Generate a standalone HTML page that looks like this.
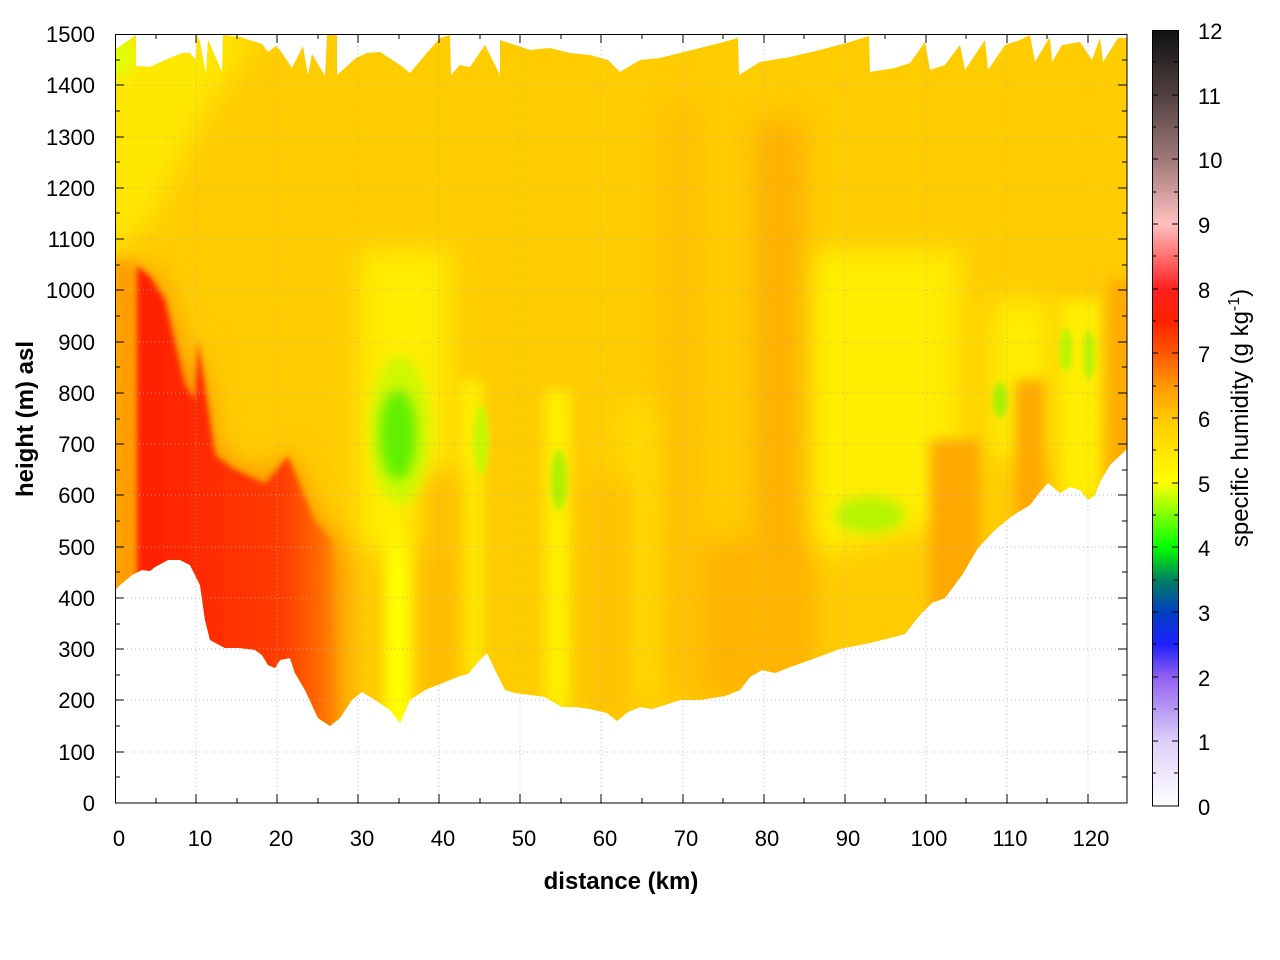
<!DOCTYPE html>
<html><head><meta charset="utf-8"><style>
html,body{margin:0;padding:0;background:#fff;}
svg{display:block;}
text{font-family:"Liberation Sans",sans-serif;fill:#000;}
</style></head><body>
<svg width="1280" height="960" viewBox="0 0 1280 960" xmlns="http://www.w3.org/2000/svg">
<defs>
<filter id="b6" x="-50%" y="-50%" width="200%" height="200%"><feGaussianBlur stdDeviation="6"/></filter>
<filter id="b10" x="-50%" y="-50%" width="200%" height="200%"><feGaussianBlur stdDeviation="14"/></filter>
<filter id="b3" x="-50%" y="-50%" width="200%" height="200%"><feGaussianBlur stdDeviation="3"/></filter>
<clipPath id="dom">
<path d="M115,50 L136,35 L136,66 L150,67 L170,58 L182,53 L190,53 L196,60 L197,35 L200,42 L206,75 L208,40 L222,72 L223,35 L240,37 L262,44 L268,52 L276,46 L280,50 L292,68 L303,46 L308,75 L312,54 L325,76 L327,35 L337,35 L337,75 L356,58 L367,53 L380,52 L400,65 L410,73 L425,55 L440,38 L450,35 L451,75 L460,65 L470,67 L485,45 L500,75 L500,40 L515,45 L530,50 L550,48 L570,53 L590,55 L608,60 L620,72 L640,60 L660,58 L680,53 L700,48 L720,43 L738,38 L739,75 L760,62 L790,57 L820,50 L850,42 L869,36 L870,72 L895,68 L910,63 L925,42 L930,70 L945,65 L960,45 L965,70 L985,40 L988,70 L1005,45 L1020,40 L1030,35 L1035,62 L1045,45 L1050,37 L1052,62 L1062,45 L1080,42 L1092,60 L1100,38 L1103,62 L1118,38 L1127,38 L1127,449 L1110,465 L1100,482 L1095,495 L1088,500 L1080,490 L1070,487 L1060,493 L1048,483 L1040,492 L1030,505 L1012,516 L995,530 L978,548 L962,575 L945,598 L932,603 L920,615 L905,634 L890,638 L870,643 L840,649 L810,660 L790,667 L775,673 L762,670 L750,677 L740,690 L725,696 L700,700 L680,700 L665,705 L652,709 L640,707 L628,712 L617,721 L607,713 L590,709 L575,707 L562,707 L555,703 L545,697 L530,695 L515,693 L505,690 L495,670 L487,653 L478,662 L468,674 L460,676 L450,680 L440,684 L425,690 L410,700 L400,723 L390,710 L375,700 L362,692 L352,700 L340,718 L330,726 L318,718 L305,690 L295,673 L290,658 L280,660 L275,668 L268,665 L262,655 L255,650 L240,648 L225,648 L210,640 L205,620 L200,585 L190,565 L180,560 L168,560 L155,567 L150,571 L142,570 L132,575 L120,585 L115,590 Z"/>
</clipPath>
<linearGradient id="cb" x1="0" y1="1" x2="0" y2="0">
<stop offset="0" stop-color="#ffffff"/>
<stop offset="0.0833" stop-color="#ddd0f8"/>
<stop offset="0.1667" stop-color="#9060f0"/>
<stop offset="0.2083" stop-color="#2020ff"/>
<stop offset="0.25" stop-color="#0040c0"/>
<stop offset="0.2917" stop-color="#008060"/>
<stop offset="0.3333" stop-color="#00ff00"/>
<stop offset="0.4167" stop-color="#ffff00"/>
<stop offset="0.5" stop-color="#ffc800"/>
<stop offset="0.5417" stop-color="#ff9800"/>
<stop offset="0.5833" stop-color="#ff5800"/>
<stop offset="0.625" stop-color="#ff2000"/>
<stop offset="0.6667" stop-color="#ff2020"/>
<stop offset="0.7083" stop-color="#ff7070"/>
<stop offset="0.75" stop-color="#ffc0c0"/>
<stop offset="0.8333" stop-color="#a07878"/>
<stop offset="0.9167" stop-color="#504040"/>
<stop offset="1" stop-color="#101010"/>
</linearGradient>
<linearGradient id="redg" gradientUnits="userSpaceOnUse" x1="135" y1="0" x2="345" y2="0">
<stop offset="0" stop-color="#ff2000"/>
<stop offset="0.3" stop-color="#ff2a00"/>
<stop offset="0.7" stop-color="#ff3c00"/>
<stop offset="0.88" stop-color="#ff6a00"/>
<stop offset="1" stop-color="#ffa000"/>
</linearGradient>
</defs>

<g clip-path="url(#dom)">
<rect x="100" y="30" width="1040" height="780" fill="#ffcc00"/>
<path d="M100,30 L260,30 L200,120 L150,220 L100,260 Z" fill="#ffe800" filter="url(#b10)"/>
<ellipse cx="118" cy="55" rx="18" ry="22" fill="#e0ff00" filter="url(#b6)"/>
<rect x="110" y="260" width="27" height="350" fill="#ffa000" filter="url(#b6)"/>
<rect x="385" y="480" width="30" height="260" fill="#ffff00" filter="url(#b6)"/>
<rect x="460" y="380" width="22" height="320" fill="#ffee00" filter="url(#b6)"/>
<rect x="545" y="390" width="25" height="320" fill="#ffee00" filter="url(#b6)"/>
<rect x="360" y="250" width="90" height="300" fill="#ffee00" filter="url(#b10)"/>
<rect x="620" y="400" width="60" height="300" fill="#ffdc00" filter="url(#b10)"/>
<path d="M800,250 L960,250 L960,520 L800,560 Z" fill="#ffee00" filter="url(#b10)"/>
<rect x="990" y="300" width="60" height="160" fill="#ffee00" filter="url(#b10)"/>
<rect x="1060" y="300" width="40" height="200" fill="#ffee00" filter="url(#b6)"/>
<rect x="755" y="120" width="50" height="560" fill="#ffb000" filter="url(#b10)"/>
<rect x="660" y="100" width="40" height="600" fill="#ffc000" filter="url(#b10)"/>
<rect x="700" y="540" width="110" height="160" fill="#ffb400" filter="url(#b10)"/>
<rect x="930" y="440" width="50" height="180" fill="#ffa800" filter="url(#b6)"/>
<rect x="1015" y="380" width="30" height="140" fill="#ffa800" filter="url(#b6)"/>
<rect x="1108" y="280" width="30" height="200" fill="#ffaa00" filter="url(#b6)"/>
<rect x="420" y="470" width="40" height="240" fill="#ffbc00" filter="url(#b10)"/>
<rect x="590" y="480" width="40" height="240" fill="#ffc000" filter="url(#b10)"/>
<path d="M137,262 L150,270 L165,292 L185,370 L195,390 L198,333 L215,450 L232,463 L265,480 L288,450 L315,517 L335,535 L345,560 L345,760 L120,760 L137,600 Z" fill="#ff8a00" filter="url(#b10)"/>
<path d="M137,266 L150,276 L165,300 L185,385 L195,400 L198,340 L215,455 L232,468 L265,484 L288,456 L315,522 L332,540 L338,760 L137,760 Z" fill="url(#redg)" filter="url(#b3)"/>
<ellipse cx="400" cy="430" rx="30" ry="75" fill="#d0f800" filter="url(#b6)"/>
<ellipse cx="398" cy="435" rx="18" ry="45" fill="#60f000" filter="url(#b6)"/>
<ellipse cx="481" cy="440" rx="8" ry="35" fill="#c8f800" filter="url(#b3)"/>
<ellipse cx="559" cy="480" rx="8" ry="30" fill="#b0f000" filter="url(#b3)"/>
<ellipse cx="870" cy="515" rx="35" ry="18" fill="#b8f400" filter="url(#b6)"/>
<ellipse cx="1000" cy="400" rx="7" ry="18" fill="#a8f000" filter="url(#b3)"/>
<ellipse cx="1066" cy="350" rx="6" ry="22" fill="#b8f400" filter="url(#b3)"/>
<ellipse cx="1089" cy="355" rx="6" ry="25" fill="#b8f400" filter="url(#b3)"/>
</g>

<g stroke="#b0b0b0" stroke-width="1" stroke-dasharray="1,3" opacity="0.8">
<line x1="196" y1="34" x2="196" y2="803"/><line x1="277" y1="34" x2="277" y2="803"/><line x1="358" y1="34" x2="358" y2="803"/><line x1="439" y1="34" x2="439" y2="803"/><line x1="520" y1="34" x2="520" y2="803"/><line x1="601" y1="34" x2="601" y2="803"/><line x1="683" y1="34" x2="683" y2="803"/><line x1="764" y1="34" x2="764" y2="803"/><line x1="845" y1="34" x2="845" y2="803"/><line x1="926" y1="34" x2="926" y2="803"/><line x1="1007" y1="34" x2="1007" y2="803"/><line x1="1088" y1="34" x2="1088" y2="803"/>
<line x1="115" y1="752" x2="1127" y2="752"/><line x1="115" y1="700" x2="1127" y2="700"/><line x1="115" y1="649" x2="1127" y2="649"/><line x1="115" y1="598" x2="1127" y2="598"/><line x1="115" y1="547" x2="1127" y2="547"/><line x1="115" y1="495" x2="1127" y2="495"/><line x1="115" y1="444" x2="1127" y2="444"/><line x1="115" y1="393" x2="1127" y2="393"/><line x1="115" y1="342" x2="1127" y2="342"/><line x1="115" y1="290" x2="1127" y2="290"/><line x1="115" y1="239" x2="1127" y2="239"/><line x1="115" y1="188" x2="1127" y2="188"/><line x1="115" y1="137" x2="1127" y2="137"/><line x1="115" y1="85" x2="1127" y2="85"/>
</g>

<rect x="115.5" y="34.5" width="1011.5" height="768.5" fill="none" stroke="#000" stroke-width="1"/>
<g stroke="#000" stroke-width="1">
<path d="M196,803v-9M277,803v-9M358,803v-9M439,803v-9M520,803v-9M601,803v-9M683,803v-9M764,803v-9M845,803v-9M926,803v-9M1007,803v-9M1088,803v-9M156,803v-5M237,803v-5M318,803v-5M399,803v-5M480,803v-5M561,803v-5M642,803v-5M723,803v-5M804,803v-5M885,803v-5M966,803v-5M1047,803v-5M196,34v9M277,34v9M358,34v9M439,34v9M520,34v9M601,34v9M683,34v9M764,34v9M845,34v9M926,34v9M1007,34v9M1088,34v9M156,34v5M237,34v5M318,34v5M399,34v5M480,34v5M561,34v5M642,34v5M723,34v5M804,34v5M885,34v5M966,34v5M1047,34v5"/>
<path d="M115,752h9M115,700h9M115,649h9M115,598h9M115,547h9M115,495h9M115,444h9M115,393h9M115,342h9M115,290h9M115,239h9M115,188h9M115,137h9M115,85h9M115,777h5M115,726h5M115,675h5M115,624h5M115,572h5M115,521h5M115,470h5M115,419h5M115,367h5M115,316h5M115,265h5M115,213h5M115,162h5M115,111h5M115,60h5M1127,752h-9M1127,700h-9M1127,649h-9M1127,598h-9M1127,547h-9M1127,495h-9M1127,444h-9M1127,393h-9M1127,342h-9M1127,290h-9M1127,239h-9M1127,188h-9M1127,137h-9M1127,85h-9M1127,777h-5M1127,726h-5M1127,675h-5M1127,624h-5M1127,572h-5M1127,521h-5M1127,470h-5M1127,419h-5M1127,367h-5M1127,316h-5M1127,265h-5M1127,213h-5M1127,162h-5M1127,111h-5M1127,60h-5"/>
</g>

<g font-size="22" text-anchor="end">
<text x="95" y="811">0</text><text x="95" y="760">100</text><text x="95" y="708">200</text><text x="95" y="657">300</text><text x="95" y="606">400</text><text x="95" y="555">500</text><text x="95" y="503">600</text><text x="95" y="452">700</text><text x="95" y="401">800</text><text x="95" y="350">900</text><text x="95" y="298">1000</text><text x="95" y="247">1100</text><text x="95" y="196">1200</text><text x="95" y="145">1300</text><text x="95" y="93">1400</text><text x="95" y="42">1500</text>
</g>
<g font-size="22" text-anchor="middle">
<text x="119" y="846">0</text><text x="200" y="846">10</text><text x="281" y="846">20</text><text x="362" y="846">30</text><text x="443" y="846">40</text><text x="524" y="846">50</text><text x="605" y="846">60</text><text x="686" y="846">70</text><text x="767" y="846">80</text><text x="848" y="846">90</text><text x="929" y="846">100</text><text x="1010" y="846">110</text><text x="1091" y="846">120</text>
</g>
<text x="621" y="889" font-size="24" font-weight="bold" text-anchor="middle">distance (km)</text>
<text transform="translate(33,419) rotate(-90)" font-size="24" font-weight="bold" text-anchor="middle">height (m) asl</text>

<rect x="1152" y="30" width="26" height="776" fill="url(#cb)"/>
<rect x="1152.5" y="30.5" width="26" height="775.5" fill="none" stroke="#000"/>
<g stroke="#000" stroke-width="1">
<path d="M1152,741h6M1152,677h6M1152,612h6M1152,547h6M1152,483h6M1152,418h6M1152,353h6M1152,289h6M1152,224h6M1152,159h6M1152,95h6M1178,741h-6M1178,677h-6M1178,612h-6M1178,547h-6M1178,483h-6M1178,418h-6M1178,353h-6M1178,289h-6M1178,224h-6M1178,159h-6M1178,95h-6M1152,773h4M1152,709h4M1152,644h4M1152,580h4M1152,515h4M1152,450h4M1152,386h4M1152,321h4M1152,256h4M1152,192h4M1152,127h4M1152,62h4M1178,773h-4M1178,709h-4M1178,644h-4M1178,580h-4M1178,515h-4M1178,450h-4M1178,386h-4M1178,321h-4M1178,256h-4M1178,192h-4M1178,127h-4M1178,62h-4"/>
</g>
<g font-size="22">
<text x="1198" y="815">0</text><text x="1198" y="750">1</text><text x="1198" y="686">2</text><text x="1198" y="621">3</text><text x="1198" y="556">4</text><text x="1198" y="492">5</text><text x="1198" y="427">6</text><text x="1198" y="362">7</text><text x="1198" y="298">8</text><text x="1198" y="233">9</text><text x="1198" y="168">10</text><text x="1198" y="104">11</text><text x="1198" y="39">12</text>
</g>
<text transform="translate(1248,418) rotate(-90)" font-size="24" text-anchor="middle">specific humidity (g kg<tspan dy="-9" font-size="16">-1</tspan><tspan dy="9">)</tspan></text>
</svg>
</body></html>
